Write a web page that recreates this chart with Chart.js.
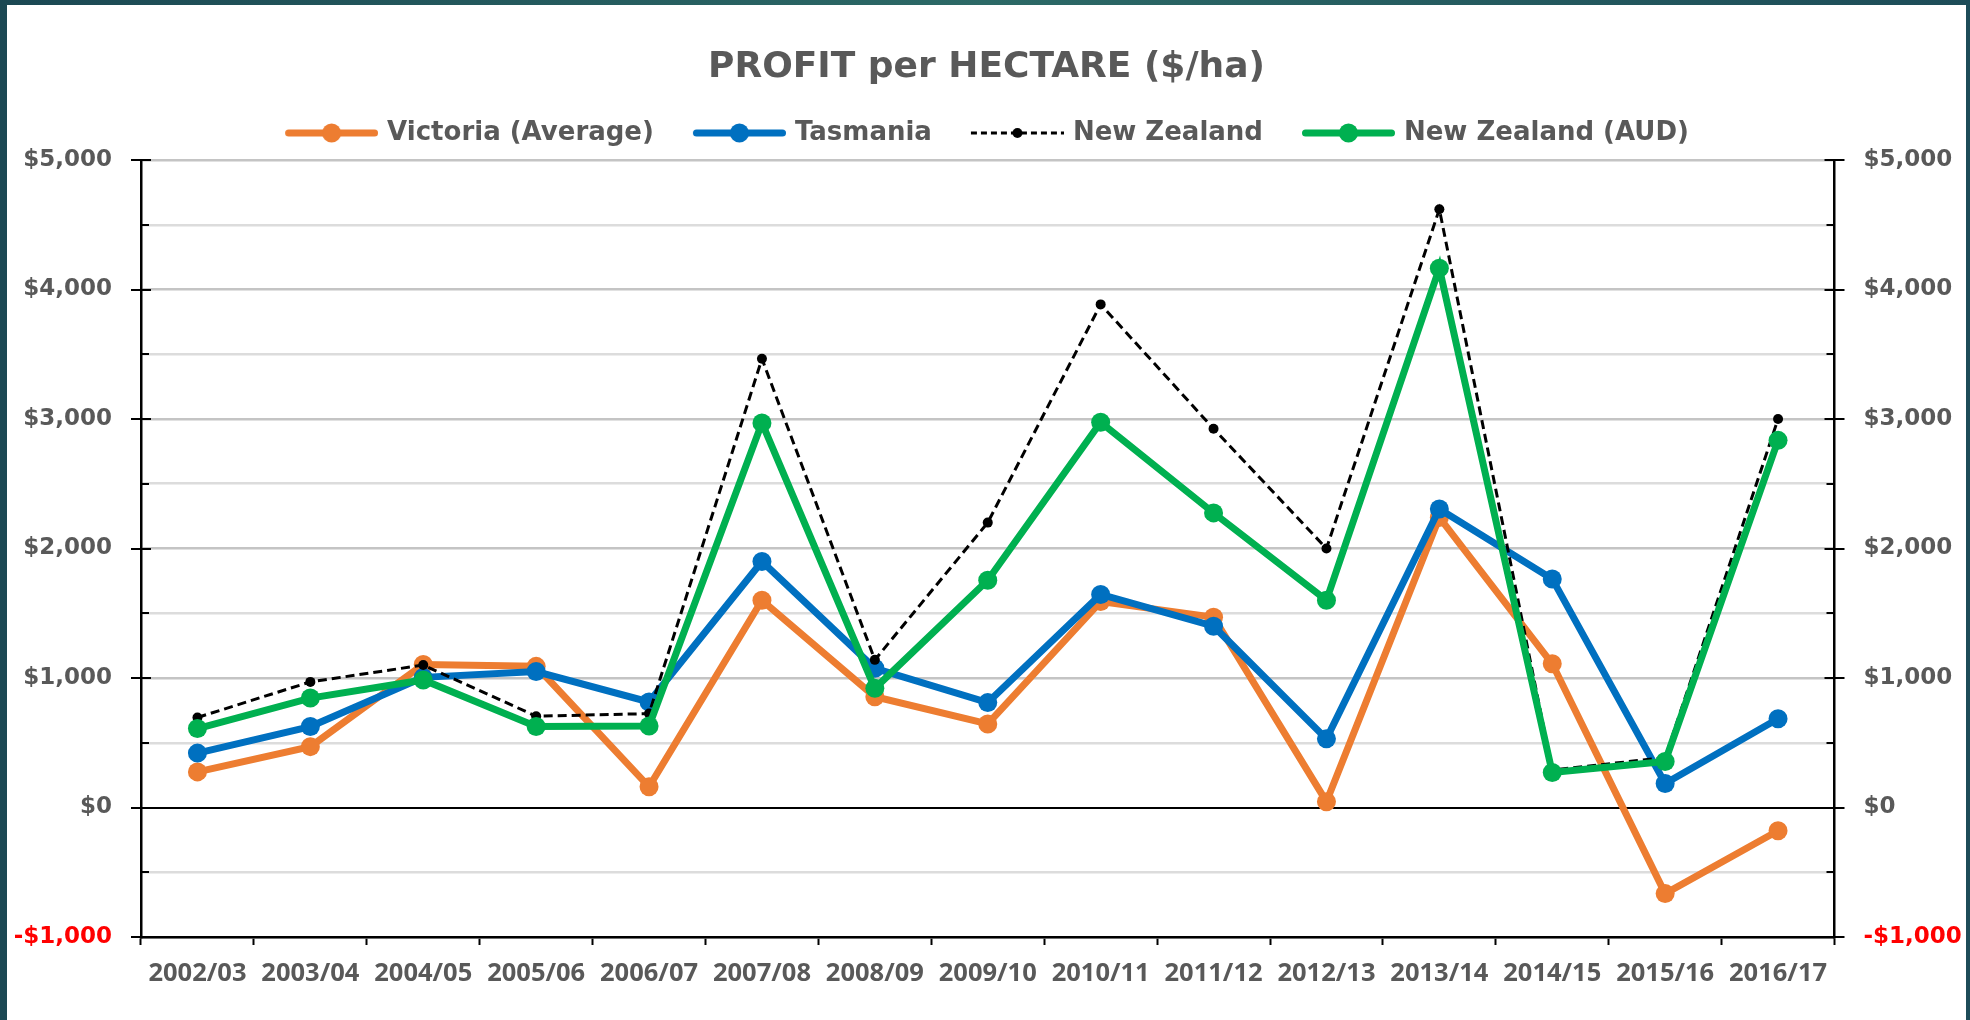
<!DOCTYPE html>
<html>
<head>
<meta charset="utf-8">
<script src="https://cdn.jsdelivr.net/npm/chart.js@4"></script>
<style>
  html, body { margin: 0; padding: 0; }
  body {
    width: 1970px; height: 1020px; overflow: hidden;
    background: linear-gradient(90deg, #1b4853 0%, #2c6966 50%, #1d4c58 100%);
  }
  #wrap {
    position: absolute; left: 7px; top: 5px;
    width: 1959px; height: 1015px; background: #ffffff;
  }
</style>
</head>
<body>
<div id="wrap"><canvas id="chart"></canvas></div>
<script>
// values ($/ha)
const seasons = ['2002/03', '2003/04', '2004/05', '2005/06', '2006/07', '2007/08', '2008/09', '2009/10',
  '2010/11', '2011/12', '2012/13', '2013/14', '2014/15', '2015/16', '2016/17'];
const victoria = [275, 470, 1105, 1090, 160, 1600, 855, 645, 1590, 1470, 45, 2240, 1110, -665, -180];
const tasmania = [420, 625, 1005, 1050, 815, 1900, 1075, 810, 1645, 1400, 530, 2305, 1765, 185, 685];
const newZealand = [695, 970, 1100, 705, 725, 3465, 1140, 2200, 3885, 2925, 2000, 4620, 290, 385, 3000];
const newZealandAud = [610, 845, 985, 625, 630, 2970, 920, 1755, 2975, 2275, 1600, 4165, 270, 355, 2835];
const seriesNames = ['Victoria (Average)', 'Tasmania', 'New Zealand', 'New Zealand (AUD)'];
const yTicks = [-1000, 0, 1000, 2000, 3000, 4000, 5000];

const ORANGE = '#ED7D31', BLUE = '#0070C0', GREEN = '#00B050', GREY = '#595959';

function money(v) {
  const s = '$' + Math.abs(v).toLocaleString('en-US');
  return v < 0 ? '-' + s : s;
}

// legend swatch: line with marker, like the Excel legend
// (126px image in a 118px legend box, so the line runs a bit closer to the text)
function swatch(color, dashed) {
  const c = document.createElement('canvas');
  c.width = 126; c.height = 22;
  const g = c.getContext('2d');
  g.strokeStyle = color;
  g.fillStyle = color;
  if (dashed) {
    g.lineWidth = 3;
    g.setLineDash([6, 4]);
    g.beginPath(); g.moveTo(33, 11); g.lineTo(126, 11); g.stroke();
    g.beginPath(); g.arc(79.5, 11, 5, 0, Math.PI * 2); g.fill();
  } else {
    g.lineWidth = 7;
    g.lineCap = 'round';
    g.beginPath(); g.moveTo(36.5, 11); g.lineTo(122.5, 11); g.stroke();
    g.beginPath(); g.arc(79.5, 11, 9.5, 0, Math.PI * 2); g.fill();
  }
  return c;
}
const swatches = [swatch(ORANGE), swatch(BLUE), swatch('#000000', true), swatch(GREEN)];

// axis tick marks: major ones cross the axis, minor ones point inwards
const axisTicks = {
  id: 'axisTicks',
  afterLayout(chart) {
    // swatches carry blank space on their left, pull the legend back to centre
    chart.legend.left -= 14;
    chart.legend.right -= 14;
  },
  afterDraw(chart) {
    const ctx = chart.ctx;
    ctx.save();
    ctx.strokeStyle = '#000000';
    ctx.lineWidth = 2;
    ['y', 'y2'].forEach(id => {
      const s = chart.scales[id];
      const x = id === 'y' ? s.right : s.left;
      const dir = id === 'y' ? 1 : -1;
      s.ticks.forEach(t => {
        const py = Math.round(s.getPixelForValue(t.value));
        ctx.beginPath();
        if (t.value % 1000 === 0) {
          ctx.moveTo(x - 10, py); ctx.lineTo(x + 10, py);
        } else {
          ctx.moveTo(x, py); ctx.lineTo(x + dir * 8, py);
        }
        ctx.stroke();
      });
    });
    ctx.restore();
  }
};

function yAxis(position, width) {
  return {
    type: 'linear',
    position: position,
    min: -1000,
    max: 5000,
    afterFit: (scale) => { scale.width = width; },
    border: { color: '#000000', width: 2.5 },
    grid: {
      drawOnChartArea: position === 'left',
      drawTicks: false,
      color: (c) => c.tick.value === 0 ? '#000000' : (c.tick.value % 1000 === 0 ? '#c4c4c4' : '#dcdcdc'),
      lineWidth: (c) => c.tick.value === 0 ? 2 : 2.5
    },
    ticks: {
      stepSize: 500,
      autoSkip: false,
      padding: 29,
      color: (c) => c.tick && c.tick.value < 0 ? '#FF0000' : GREY,
      font: { family: 'DejaVu Sans', weight: 'bold', size: 23 },
      callback: (v) => yTicks.includes(v) ? money(v) : ''
    }
  };
}

const ctx = document.getElementById('chart').getContext('2d');
const chart = new Chart(ctx, {
  type: 'line',
  data: {
    labels: seasons,
    datasets: [
      { label: seriesNames[0], data: victoria, borderColor: ORANGE, backgroundColor: ORANGE,
        borderWidth: 7, pointRadius: 9.5, pointBorderWidth: 0, order: 4 },
      { label: seriesNames[1], data: tasmania, borderColor: BLUE, backgroundColor: BLUE,
        borderWidth: 7, pointRadius: 9.5, pointBorderWidth: 0, order: 3 },
      { label: seriesNames[2], data: newZealand, borderColor: '#000000', backgroundColor: '#000000',
        borderWidth: 3, borderDash: [9, 5], pointRadius: 5, pointBorderWidth: 0, order: 2 },
      { label: seriesNames[3], data: newZealandAud, borderColor: GREEN, backgroundColor: GREEN,
        borderWidth: 7, pointRadius: 9.5, pointBorderWidth: 0, order: 1 }
    ]
  },
  options: {
    responsive: true,
    maintainAspectRatio: false,
    animation: false,
    devicePixelRatio: 1,
    layout: { padding: 0 },
    plugins: {
      tooltip: { enabled: false },
      title: {
        display: true,
        text: 'PROFIT per HECTARE ($/ha)',
        color: GREY,
        font: { family: 'DejaVu Sans', weight: 'bold', size: 36, lineHeight: 1 },
        padding: { top: 45, bottom: 24 }
      },
      subtitle: {
        display: true,
        text: '',
        position: 'top',
        weight: 500,
        font: { size: 1, lineHeight: 1 },
        padding: { top: 0, bottom: 3 }
      },
      legend: {
        display: true,
        position: 'top',
        labels: {
          usePointStyle: true,
          pointStyleWidth: 118,
          padding: 10,
          color: GREY,
          font: { family: 'DejaVu Sans', weight: 'bold', size: 26 },
          generateLabels: (ch) => ch.data.datasets.map((ds, i) => ({
            text: ds.label,
            fillStyle: ds.borderColor,
            strokeStyle: ds.borderColor,
            lineWidth: 0,
            pointStyle: swatches[i],
            fontColor: GREY,
            hidden: false,
            datasetIndex: i
          }))
        }
      }
    },
    scales: {
      x: {
        type: 'category',
        offset: true,
        afterFit: (scale) => { scale.height = 83; },
        border: { color: '#000000', width: 2.5 },
        grid: { offset: true, drawOnChartArea: false, tickLength: 8, tickColor: '#000000', tickWidth: 2 },
        ticks: {
          autoSkip: false,
          maxRotation: 0,
          padding: 13,
          color: GREY,
          font: { family: 'Open Sans', weight: 'bold', size: 25.5 }
        }
      },
      y: yAxis('left', 134),
      y2: yAxis('right', 131.5)
    }
  },
  plugins: [axisTicks]
});
</script>
</body>
</html>
